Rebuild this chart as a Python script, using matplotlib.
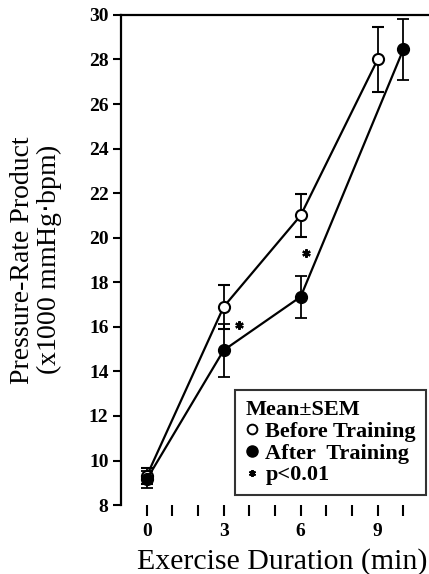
import matplotlib
matplotlib.use("Agg")
import matplotlib.pyplot as plt
from matplotlib.lines import Line2D

# Exercise time points (min) and pressure-rate product (x1000 mmHg*bpm)
before_x = [0, 3, 6, 9]
before_y = [9.3, 16.9, 21.0, 28.0]
before_err = [0.35, 1.0, 0.95, 1.45]

after_x = [0, 3, 6, 10]
after_y = [9.15, 14.95, 17.35, 28.45]
after_err = [0.4, 1.2, 0.95, 1.35]

# significance markers (x, y)
sig_x = [3.6, 6.2]
sig_y = [16.1, 19.3]

xticks = [0, 3, 6, 9]
yticks = list(range(8, 31, 2))

plt.rcParams['font.family'] = ['Liberation Serif', 'DejaVu Serif']

fig = plt.figure(figsize=(4.29, 5.74), dpi=100)
ax = fig.add_axes([0.282, 0.12, 0.718, 0.854])

lw = 1.6
ax.errorbar(before_x, before_y, yerr=before_err, color='black', lw=lw,
            elinewidth=1.3, capsize=4, capthick=1.3, marker='o',
            mfc='white', mec='black', mew=1.5, ms=8, zorder=3)
ax.errorbar(after_x, after_y, yerr=after_err, color='black', lw=lw,
            elinewidth=1.3, capsize=4, capthick=1.3, marker='o',
            mfc='black', mec='black', ms=8.5, zorder=3)
ax.plot(sig_x, sig_y, linestyle='none', marker=(6, 2, 0), color='black',
        ms=6, mew=1.6)

ax.set_xlim(-1, 11)
ax.set_ylim(8, 30)

ax.spines['right'].set_visible(False)
ax.spines['bottom'].set_visible(False)
ax.spines['left'].set_linewidth(1.6)
ax.spines['top'].set_linewidth(1.6)

ax.set_yticks(yticks)
ax.set_yticklabels([str(t) for t in yticks], fontweight='bold', fontsize=14)
ax.set_xticks(xticks)
ax.set_xticklabels([str(t) for t in xticks], fontweight='bold', fontsize=14)
ax.set_xticks(range(0, 11), minor=True)
ax.tick_params(axis='y', direction='out', length=6, width=1.5, pad=3)
ax.tick_params(axis='x', which='both', direction='out', length=8, width=1.5,
               pad=5)

ax.set_xlabel('Exercise Duration (min)', fontsize=21.5)
ax.xaxis.set_label_coords(0.524, -0.088)
ax.set_ylabel('Pressure-Rate Product\n(x1000 mmHg$\\cdot$bpm)', fontsize=20,
              labelpad=18, linespacing=0.95)

handles = [
    Line2D([], [], linestyle='none', marker='o', mfc='white', mec='black',
           mew=1.4, ms=7),
    Line2D([], [], linestyle='none', marker='o', mfc='black', mec='black',
           ms=8),
    Line2D([], [], linestyle='none', marker=(6, 2, 0), color='black', ms=5,
           mew=1.4),
]
labels = ['Before Training', 'After  Training', 'p<0.01']
leg = ax.legend(handles, labels, title='Mean\u00b1SEM', loc='lower right',
                bbox_to_anchor=(0.99, 0.02), frameon=True, fancybox=False,
                edgecolor='black', handlelength=0.6, handletextpad=0.3,
                borderpad=0.45, labelspacing=0.05, borderaxespad=0,
                prop={'weight': 'bold', 'size': 16})
leg.get_title().set_fontweight('bold')
leg.get_title().set_fontsize(16)
leg._legend_box.align = 'left'
leg.get_frame().set_linewidth(1.5)

fig.savefig('out.png', dpi=100)
